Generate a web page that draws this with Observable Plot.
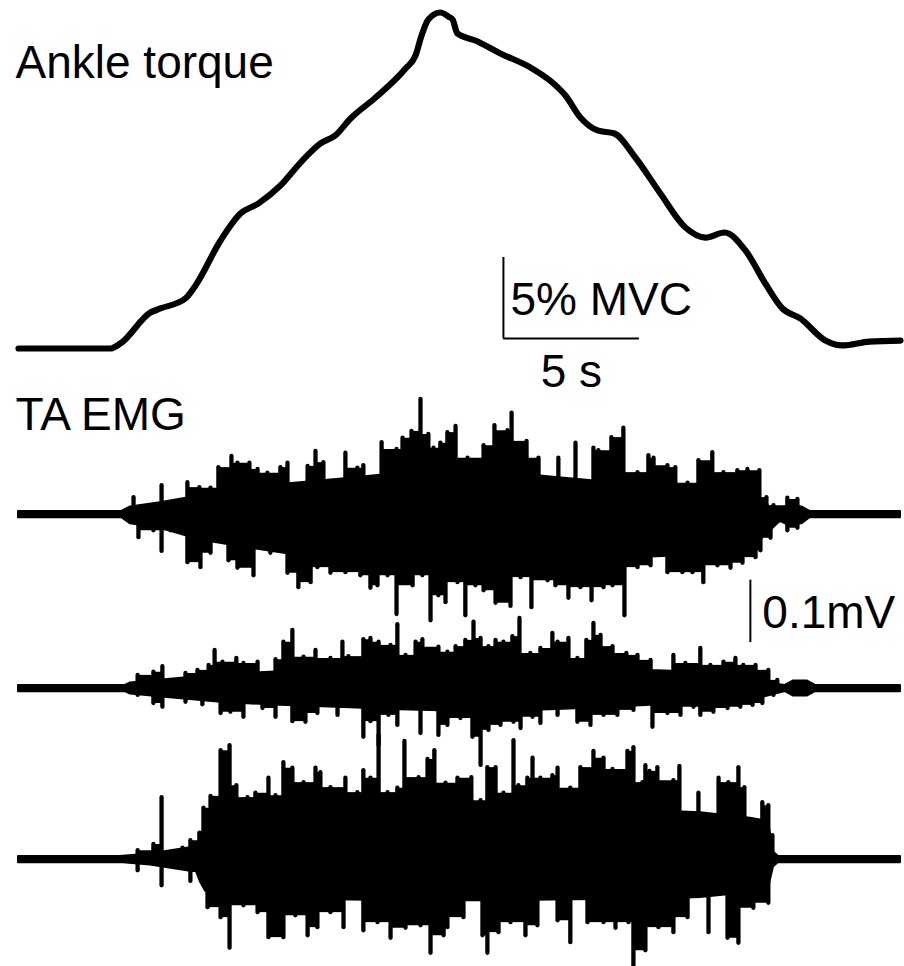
<!DOCTYPE html>
<html><head><meta charset="utf-8">
<script src="https://cdn.jsdelivr.net/npm/d3@7"></script>
<script src="https://cdn.jsdelivr.net/npm/@observablehq/plot@0.6"></script>
<style>body{margin:0;background:#fff}#chart{width:904px;height:966px}</style>
</head><body><div id="chart"></div>
<script>
// ---- Ankle torque (% MVC) vs time (s) ----
const torqueTime = [0,3.38,3.75,4.85,5.22,6.14,6.51,7.43,8.16,8.82,9.63,10.37,11.10,11.65,12.21,13.13,14.23,14.60,14.82,15.07,15.51,15.81,15.96,16.14,16.80,17.72,18.82,19.63,20.11,20.66,21.29,21.91,22.68,23.60,24.52,25.26,25.96,26.73,27.46,28.09,28.75,29.67,30.29,31.29,32.43];
const torqueMVC = [0,0,0.31,2.22,2.47,3.09,3.89,6.67,8.33,8.95,10.06,11.48,12.65,13.15,14.20,15.49,17.28,18.09,19.32,20.31,20.74,20.49,20.31,19.44,19.01,18.21,17.35,16.42,15.62,14.26,13.46,13.27,11.79,9.57,7.47,6.85,7.16,6.05,4.01,2.47,1.85,0.49,0.19,0.43,0.49];

// ---- TA EMG (µV): dense solid core + peaks reaching beyond it ----
const emg1CoreT  = [0,3.8,4.12,5.22,6.69,8.53,10.37,12.21,14.04,15.88,17.72,19.56,21.40,23.24,25.07,26.91,27.65,28.01,28.3,28.8,29.1,32.43];
const emg1CoreHi = [5,5,12,19,30,44,51,58,66,73,68,60,53,44,37,32,12,8,14,12,5,5];
const emg1CoreLo = [-5,-5,-15,-22,-41,-54,-66,-70,-78,-81,-80,-76,-73,-68,-65,-56,-26,-11,-17,-15,-5,-5];
const emg1Up = [[4.23,27],[5.26,46],[6.21,51],[6.65,43],[7.06,42],[7.35,75],[7.83,93],[8.05,82],[8.49,82],[8.79,72],[9.15,66],[9.63,75],[9.89,82],[10.63,77],[10.92,101],[11.21,83],[12.02,98],[12.46,74],[12.68,78],[13.35,115],[13.90,104],[14.12,122],[14.45,133],[14.78,184],[15.07,128],[15.26,106],[15.51,114],[15.77,131],[16.07,141],[16.51,90],[17.10,110],[17.50,142],[17.98,134],[18.13,162],[18.68,117],[19.12,90],[19.85,90],[20.48,114],[21.14,106],[21.32,102],[21.80,123],[22.24,138],[22.76,67],[23.16,94],[23.35,90],[23.86,78],[24.15,75],[24.60,50],[25.00,86],[25.51,99],[25.92,67],[26.43,70],[26.80,72],[27.24,70],[27.50,27],[27.76,14],[28.27,26],[28.64,24]];
const emg1Down = [[4.41,-37],[4.96,-26],[5.26,-59],[5.59,-26],[6.21,-77],[6.69,-85],[7.06,-62],[7.72,-74],[8.05,-86],[8.64,-98],[9.01,-42],[9.26,-62],[9.89,-94],[10.29,-117],[10.74,-109],[10.99,-85],[11.47,-94],[12.02,-93],[12.57,-98],[12.94,-118],[13.20,-114],[13.57,-98],[13.90,-160],[14.49,-114],[14.85,-98],[15.15,-170],[15.44,-130],[15.70,-141],[16.14,-109],[16.43,-162],[16.80,-114],[17.10,-122],[17.54,-142],[18.09,-147],[18.46,-101],[18.86,-149],[19.45,-106],[19.74,-114],[20.22,-134],[20.66,-117],[21.07,-138],[21.51,-117],[21.84,-114],[22.28,-162],[22.76,-85],[23.24,-82],[23.86,-93],[24.41,-93],[24.78,-93],[25.18,-109],[25.70,-82],[26.18,-86],[26.62,-78],[27.10,-69],[27.28,-58],[27.65,-38],[28.27,-26],[28.64,-22]];

const emg2CoreT  = [0,3.93,4.12,5.59,7.43,9.63,12.21,14.04,15.88,17.72,19.56,21.40,23.24,25.07,26.91,27.83,28.2,28.5,29.0,29.3,32.43];
const emg2CoreHi = [5,5,9,15,22,27,32,37,39,39,37,34,29,26,20,7,5,12,12,5,5];
const emg2CoreLo = [-5,-5,-9,-15,-22,-27,-31,-34,-36,-36,-34,-31,-27,-24,-19,-9,-5,-12,-12,-5,-5];
const emg2Up = [[4.38,21],[4.96,26],[5.29,35],[6.14,24],[6.58,29],[6.99,37],[7.21,61],[7.50,42],[8.01,48],[8.27,40],[8.79,42],[9.45,46],[9.74,74],[10.07,93],[10.48,50],[10.92,61],[11.47,48],[11.91,74],[12.13,51],[12.68,78],[12.94,80],[13.24,74],[13.68,69],[13.93,102],[14.23,53],[14.60,74],[14.85,78],[15.44,66],[15.77,58],[16.07,67],[16.43,77],[16.73,106],[16.99,80],[17.28,67],[17.54,77],[17.83,74],[18.16,83],[18.42,112],[18.82,56],[19.19,64],[19.63,88],[19.82,74],[20.22,80],[20.55,48],[20.88,77],[21.14,104],[21.40,85],[21.84,67],[22.35,56],[22.76,53],[23.24,45],[24.08,53],[24.52,40],[25.07,64],[25.44,37],[25.92,42],[26.36,48],[26.65,37],[27.10,37],[27.57,29],[27.90,13]];
const emg2Down = [[4.38,-11],[4.96,-24],[5.29,-30],[6.14,-22],[6.76,-26],[7.43,-40],[7.79,-38],[8.27,-46],[8.97,-32],[9.45,-46],[10.07,-53],[10.55,-54],[10.99,-40],[11.73,-43],[12.68,-78],[12.94,-53],[13.24,-91],[13.60,-43],[13.93,-59],[14.78,-72],[15.44,-75],[15.77,-59],[16.25,-48],[16.69,-78],[16.99,-123],[17.28,-67],[17.72,-59],[18.20,-54],[18.46,-64],[18.90,-46],[19.19,-56],[19.82,-43],[20.55,-54],[21.03,-59],[21.51,-43],[22.02,-43],[22.61,-35],[23.31,-62],[23.86,-40],[24.34,-43],[24.82,-30],[25.07,-43],[25.55,-38],[26.07,-32],[26.54,-30],[26.99,-27],[27.35,-24],[27.76,-11]];

const emg3CoreT  = [0,3.75,4.85,6.32,6.54,6.69,6.88,7.43,8.53,10.37,12.21,14.04,15.88,17.72,19.56,21.40,23.24,25.07,26.91,27.57,27.76,27.94,32.43];
const emg3CoreHi = [5,5,9,19,19,32,56,66,71,77,78,78,79,79,80,80,78,75,66,61,12,5,5];
const emg3CoreLo = [-5,-5,-9,-19,-19,-36,-51,-56,-60,-64,-65,-66,-66,-66,-65,-64,-64,-61,-53,-47,-12,-5,-5];
const emg3Up = [[4.38,14],[4.96,24],[5.26,99],[6.03,18],[6.32,30],[6.65,42],[6.80,82],[7.06,101],[7.43,174],[7.76,182],[8.01,118],[8.42,99],[8.71,106],[9.19,130],[9.45,102],[9.74,155],[10.07,146],[10.48,123],[10.92,146],[11.10,139],[11.47,115],[12.02,130],[12.46,107],[12.68,142],[12.94,130],[13.24,198],[13.57,107],[13.93,114],[14.19,189],[14.71,131],[15.04,160],[15.29,174],[15.70,122],[16.14,130],[16.65,131],[16.99,94],[17.24,147],[17.54,147],[17.83,106],[18.20,190],[18.38,118],[18.71,130],[18.90,162],[19.19,130],[19.63,134],[19.82,146],[20.29,114],[20.66,147],[21.14,173],[21.51,162],[21.84,144],[22.39,173],[22.61,179],[22.94,123],[23.05,150],[23.20,141],[23.49,147],[24.08,126],[24.30,149],[25.00,106],[25.74,130],[26.10,123],[26.47,147],[26.69,115],[27.35,91],[27.57,86],[27.72,38]];
const emg3Down = [[4.38,-18],[5.26,-42],[6.32,-35],[6.95,-77],[7.43,-93],[7.76,-142],[8.27,-74],[8.79,-85],[9.19,-125],[9.74,-125],[10.18,-90],[10.63,-122],[10.99,-109],[11.47,-85],[11.95,-109],[12.68,-114],[13.20,-101],[13.68,-126],[14.23,-110],[14.78,-106],[15.15,-150],[15.63,-122],[15.77,-109],[16.36,-93],[17.06,-122],[17.24,-150],[17.65,-117],[18.09,-101],[18.64,-122],[19.08,-106],[19.82,-98],[20.29,-133],[20.92,-101],[21.51,-101],[21.95,-110],[22.43,-101],[22.61,-170],[23.05,-146],[23.53,-109],[24.08,-117],[24.60,-93],[25.37,-117],[26.07,-126],[26.47,-134],[27.02,-78],[27.57,-70]];

// ---- labels ----
const labels = {torque: "Ankle torque", emg: "TA EMG", torqueBar: "5% MVC", timeBar: "5 s", emgBar: "0.1mV"};
const scaleBars = {timeS: 5, torquePct: 5, emgUV: 100};

// ---- layout: vertical stacking of the traces (panel offsets) ----
const L = {torqueBase: 348, torquePxPerPct: 16.2, emgBase: [514, 688, 859], emgPxPerUV: 0.625};
const ty = v => L.torqueBase - v * L.torquePxPerPct;
const ey = (i, v) => L.emgBase[i] - v * L.emgPxPerUV;

const torqueRows = torqueTime.map((t, i) => ({t, v: torqueMVC[i]}));
const emgSets = [
  {T: emg1CoreT, H: emg1CoreHi, Lo: emg1CoreLo, up: emg1Up, dn: emg1Down},
  {T: emg2CoreT, H: emg2CoreHi, Lo: emg2CoreLo, up: emg2Up, dn: emg2Down},
  {T: emg3CoreT, H: emg3CoreHi, Lo: emg3CoreLo, up: emg3Up, dn: emg3Down}
];

// peak-envelope "skyline": between two neighbouring peaks the trace is dense up to the lower of the two
function skyline(peaks, sign) {
  const s = peaks.slice().sort((a, b) => a[0] - b[0]);
  const out = [];
  for (let k = 0; k < s.length - 1; k++) {
    const [t0, v0] = s[k], [t1, v1] = s[k + 1];
    if (t1 - t0 > 0.6) continue;
    out.push({t0, t1, v: sign > 0 ? Math.min(v0, v1) : Math.max(v0, v1)});
  }
  return out;
}

const font = {fontFamily: "Liberation Sans, Arial, Helvetica, sans-serif", fontSize: 46, fill: "black", lineAnchor: "bottom"};
const marks = [];
emgSets.forEach((s, i) => {
  const core = s.T.map((t, k) => ({t, hi: s.H[k], lo: s.Lo[k]}));
  const spikes = s.up.concat(s.dn).map(([t, v]) => ({t, v}));
  const blocks = skyline(s.up, 1).concat(skyline(s.dn, -1));
  marks.push(Plot.areaY(core, {x: "t", y1: d => ey(i, d.lo), y2: d => ey(i, d.hi), fill: "black", stroke: "black", strokeWidth: 2, strokeLinejoin: "round"}));
  marks.push(Plot.rect(blocks, {x1: "t0", x2: "t1", y1: () => ey(i, 0), y2: d => ey(i, d.v), fill: "black"}));
  marks.push(Plot.ruleX(spikes, {x: "t", y1: () => ey(i, 0), y2: d => ey(i, d.v), stroke: "black", strokeWidth: 4.3, strokeLinecap: "round"}));
});
marks.push(Plot.line(torqueRows, {x: "t", y: d => ty(d.v), stroke: "black", strokeWidth: 6.2, curve: "monotone-x", strokeLinecap: "round", strokeLinejoin: "round"}));

// scale bars
const barT0 = 17.83, barV0 = 0.62;
marks.push(Plot.ruleX([barT0], {x: d => d, y1: () => ty(barV0), y2: () => ty(barV0 + scaleBars.torquePct), stroke: "black", strokeWidth: 2}));
marks.push(Plot.ruleY([barV0], {y: d => ty(d), x1: () => barT0, x2: () => barT0 + scaleBars.timeS, stroke: "black", strokeWidth: 2}));
const emgBarT = 26.91, emgBarTop = -105;
marks.push(Plot.ruleX([emgBarT], {x: d => d, y1: () => ey(0, emgBarTop), y2: () => ey(0, emgBarTop - scaleBars.emgUV), stroke: "black", strokeWidth: 2}));

// texts
marks.push(Plot.text([labels.torque], {x: () => -0.11, y: () => ty(16.67), text: d => d, textAnchor: "start", ...font}));
marks.push(Plot.text([labels.emg], {x: () => -0.11, y: () => ey(0, 136), text: d => d, textAnchor: "start", ...font}));
marks.push(Plot.text([labels.torqueBar], {x: () => 18.09, y: () => ty(2.04), text: d => d, textAnchor: "start", ...font}));
marks.push(Plot.text([labels.timeBar], {x: () => barT0 + scaleBars.timeS / 2, y: () => ty(-2.35), text: d => d, textAnchor: "middle", ...font}));
marks.push(Plot.text([labels.emgBar], {x: () => 27.35, y: () => ey(0, -181), text: d => d, textAnchor: "start", ...font}));

const chart = Plot.plot({
  width: 904, height: 966, margin: 0,
  style: {background: "white"},
  x: {domain: [0, 32.43], range: [18, 900], axis: null},
  y: {domain: [0, 966], range: [0, 966], axis: null},
  marks
});
document.getElementById("chart").appendChild(chart);
</script></body></html>
